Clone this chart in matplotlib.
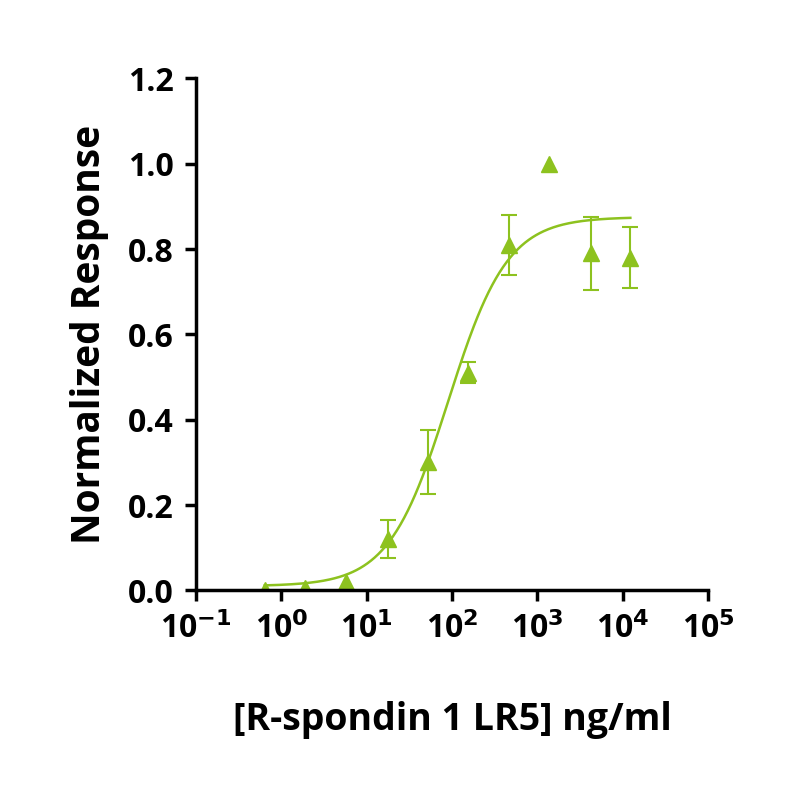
import numpy as np
import matplotlib.pyplot as plt

conc = [0.64, 1.9, 5.8, 17.6, 52, 156, 468, 1380, 4270, 12300]
resp = [0.0, 0.005, 0.02, 0.12, 0.30, 0.51, 0.81, 1.0, 0.79, 0.78]
err = [0.0, 0.0, 0.0, 0.045, 0.075, 0.025, 0.07, 0.0, 0.085, 0.072]

# 4PL fit parameters
bottom, top, ec50, hill = 0.01, 0.875, 90.0, 1.25

color = "#8dc21f"
plt.rcParams["font.family"] = "Open Sans"
plt.rcParams["font.weight"] = "bold"

fig, ax = plt.subplots(figsize=(8, 8), dpi=100)
fig.subplots_adjust(left=0.245, right=0.885, top=0.902, bottom=0.262)

xs = np.logspace(np.log10(conc[0]), np.log10(conc[-1]), 300)
ax.plot(xs, bottom + (top - bottom) / (1 + (ec50 / xs) ** hill), color=color, lw=1.8)
ax.plot(conc, resp, "^", color=color, ms=12)
idx = [i for i, e in enumerate(err) if e > 0]
ax.errorbar([conc[i] for i in idx], [resp[i] for i in idx], yerr=[err[i] for i in idx],
            fmt="none", ecolor=color, capsize=6, elinewidth=1.5, capthick=1.5)

ax.set_xscale("log")
ax.set_xlim(0.1, 1e5)
ax.set_ylim(0, 1.2)
ax.set_yticks(np.arange(0, 1.21, 0.2))
ax.set_yticklabels([f"{v:.1f}" for v in np.arange(0, 1.21, 0.2)])
ax.set_xticks([10.0 ** k for k in range(-1, 6)])
ax.set_xticklabels([f"10$^{{{k}}}$" for k in range(-1, 6)])
ax.minorticks_off()
for s in ["top", "right"]:
    ax.spines[s].set_visible(False)
for s in ["left", "bottom"]:
    ax.spines[s].set_linewidth(2.5)
ax.tick_params(width=2.5, length=8, labelsize=23, pad=8)
ax.set_xlabel("[R-spondin 1 LR5] ng/ml", fontsize=27, fontweight="bold", labelpad=40)
ax.set_ylabel("Normalized Response", fontsize=28, fontweight="bold", labelpad=14)

fig.savefig("out.png")
